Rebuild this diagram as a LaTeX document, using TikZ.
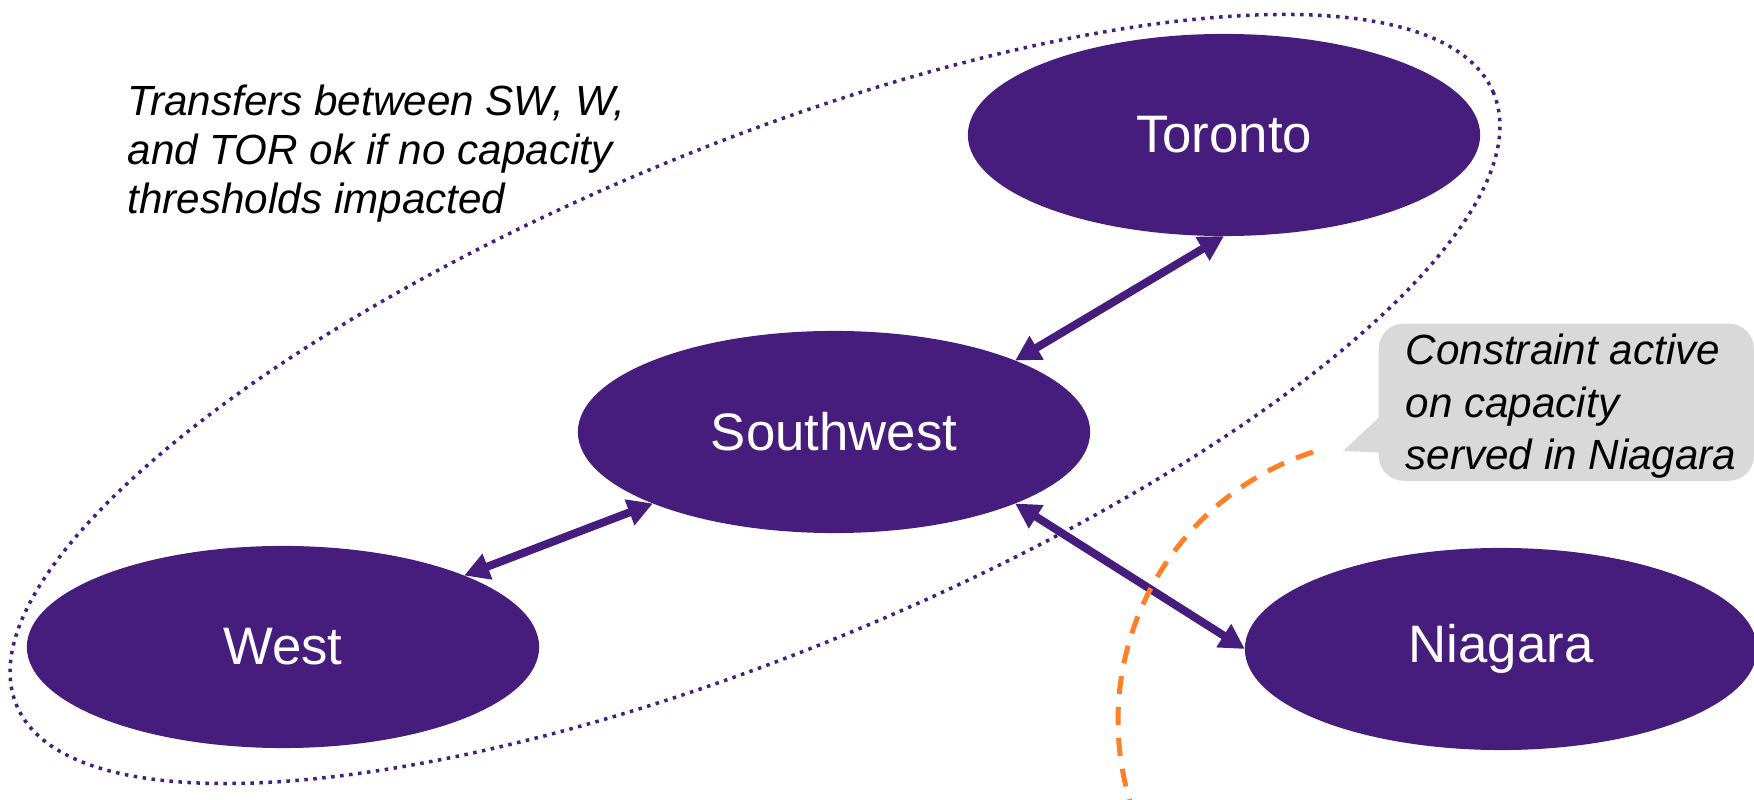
\documentclass[tikz,border=0pt]{standalone}
\usepackage{fontspec}
\setmainfont{Liberation Sans}
\usetikzlibrary{shapes.geometric,arrows.meta}
\definecolor{regionpurple}{RGB}{70,29,124}
\definecolor{limitorange}{RGB}{255,128,40}
\definecolor{notegray}{RGB}{217,217,217}

\begin{document}
\begin{tikzpicture}[x=0.01cm,y=0.01cm,
region/.style={ellipse,fill=regionpurple,text=white,font=\fontsize{15}{18}\selectfont,
  minimum width=5.12cm,minimum height=2.02cm,inner sep=0pt,outer sep=0pt},
link/.style={regionpurple,line width=0.08cm,
  {Triangle[length=0.25cm,width=0.26cm]}-{Triangle[length=0.25cm,width=0.26cm]}},
zone/.style={ellipse,draw=regionpurple,line width=0.035cm,dash pattern=on 0.035cm off 0.055cm,
  minimum width=15.98cm,minimum height=5.04cm,inner sep=0pt,rotate=22.5},
boundary/.style={limitorange,line width=0.05cm,dash pattern=on 0.18cm off 0.13cm},
remark/.style={font=\itshape\fontsize{12}{14}\selectfont,align=left,inner sep=0pt}]
\useasboundingbox (0,0) rectangle (1754,800);
\clip (0,0) rectangle (1754,800);

% group of regions that may trade freely
\node[zone] (group) at (755,401) {};

\node[region] (tor) at (1224,665) {Toronto};
\node[region] (sw) at (834,368) {Southwest};
\node[region] (west) at (283,153) {West};
\node[region] (nia) at (1501,151) {Niagara};

\draw[link] (sw.north east) -- (tor.south);
\draw[link] (west.north east) -- (sw.south west);
\draw[link] (sw.south east) -- (nia.west);

% constrained interface
\coordinate (cutstart) at (1313,348);
\draw[boundary] (cutstart) arc[start angle=108,end angle=205,radius=2.82cm];

\node[remark,anchor=north west] (rule) at (127,716) {Transfers between SW, W,\\and TOR ok if no capacity\\thresholds impacted};

% callout
\node[fill=notegray,rounded corners=0.25cm,minimum width=3.75cm,minimum height=1.57cm,
  anchor=north west,inner sep=0pt] (note) at (1378,477) {};
\coordinate (notetip) at (1343,349);
\fill[notegray] ([xshift=0.05cm,yshift=-0.115cm]note.west) -- (notetip)
  -- ([xshift=0.05cm,yshift=-0.505cm]note.west) -- cycle;
\node[remark,font=\itshape\fontsize{12}{15}\selectfont,anchor=west] (notetext)
  at ([xshift=0.27cm,yshift=-0.04cm]note.west) {Constraint active\\on capacity\\served in Niagara};
\end{tikzpicture}
\end{document}
